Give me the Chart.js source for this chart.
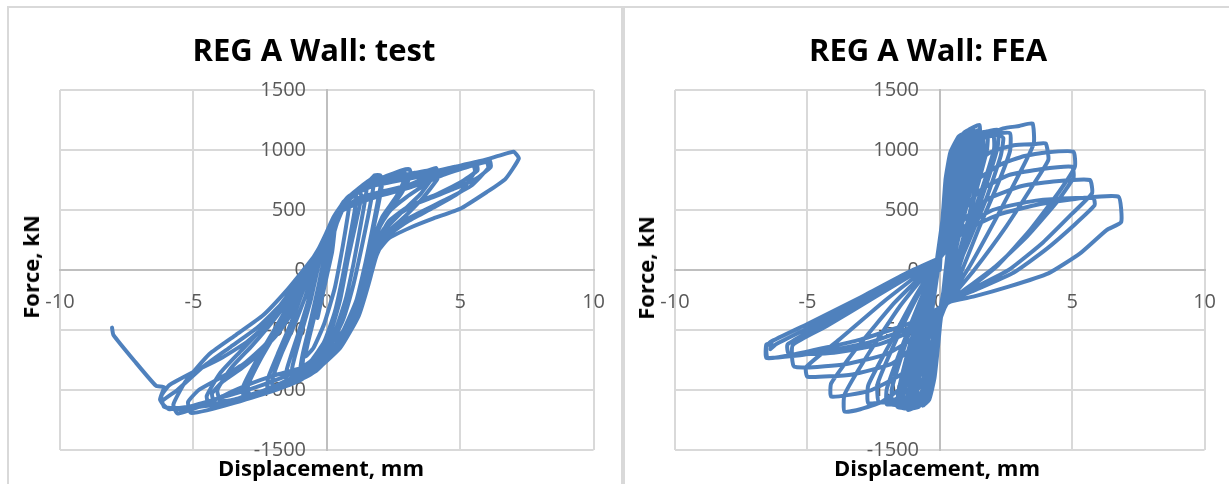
<!DOCTYPE html>
<html>
<head>
<meta charset="utf-8">
<script src="https://cdn.jsdelivr.net/npm/chart.js@4.4.1/dist/chart.umd.min.js"></script>
<style>
  body { margin: 0; background: #fff; }
  #wrap { position: relative; width: 1229px; height: 484px; overflow: hidden; background: #fff; }
  .line { position: absolute; background: #d9d9d9; }
  .box { position: absolute; top: 7px; height: 477px; }
  .title, .xtitle, .ytitle { position: absolute; font-family: "Open Sans", sans-serif; font-weight: bold; color: #000; white-space: nowrap; }
  .title { font-size: 31px; top: 28px; transform: translateX(-50%); }
  .xtitle { font-size: 22px; top: 452px; transform: translateX(-50%); }
  .ytitle { font-size: 22px; transform: translate(-50%, -50%) rotate(-90deg); }
</style>
</head>
<body>
<div id="wrap">
  <div class="line" style="left:7px;top:6px;width:1222px;height:2px"></div>
  <div class="line" style="left:7px;top:6px;width:2px;height:478px"></div>
  <div class="line" style="left:621px;top:6px;width:4px;height:478px"></div>

  <div class="box" style="left:8px;width:617px"><canvas id="testChart"></canvas></div>
  <div class="box" style="left:623px;width:613px"><canvas id="feaChart"></canvas></div>

  <div class="title" style="left:314px">REG A Wall: test</div>
  <div class="title" style="left:928px">REG A Wall: FEA</div>
  <div class="xtitle" style="left:321px">Displacement, mm</div>
  <div class="xtitle" style="left:937px">Displacement, mm</div>
  <div class="ytitle" style="left:30px;top:267px">Force, kN</div>
  <div class="ytitle" style="left:645px;top:268px">Force, kN</div>
</div>

<script>
// axis ticks (same on both panels)
const xTicks = [-10, -5, 0, 5, 10];
const yTicks = [-1500, -1000, -500, 0, 500, 1000, 1500];

// ---- test: [displacement mm, force kN], cycle by cycle ----
const testCycle1 = [[0,0],[0.15,200],[0.3,350],[0.2,150],[0,-50],[-0.2,-250],[-0.35,-400],[-0.2,-200],[0,0]];
const testCycle2 = [[0,0],[0.2,250],[0.5,470],[0.85,570],[0.8,470],[0.6,200],[0.3,-150],[-0.1,-450],[-0.5,-650],[-0.8,-720],[-0.7,-600],[-0.4,-330],[-0.15,-50],[0,150]];
const testCycle3 = [[0,150],[0.25,330],[0.55,500],[0.9,600],[1.1,620],[1.05,500],[0.85,250],[0.6,-50],[0.3,-350],[-0.1,-600],[-0.6,-760],[-0.9,-800],[-0.85,-680],[-0.55,-420],[-0.25,-150],[0,80]];
const testCycle4 = [[0,80],[0.3,360],[0.7,560],[1.2,650],[1.3,620],[1.1,400],[0.8,100],[0.5,-250],[0.1,-550],[-0.5,-780],[-1.0,-860],[-0.9,-700],[-0.6,-420],[-0.3,-120],[-0.1,100]];
const testCycle5 = [[-0.1,100],[0.25,370],[0.7,580],[1.2,680],[1.5,720],[1.45,600],[1.25,350],[1.0,50],[0.7,-250],[0.2,-580],[-0.4,-800],[-1.2,-900],[-1.3,-820],[-1.0,-560],[-0.6,-250],[-0.3,50]];
const testCycle6 = [[-0.3,50],[0.1,330],[0.6,560],[1.2,680],[1.7,760],[1.75,700],[1.55,450],[1.3,180],[1.0,-120],[0.6,-420],[0,-680],[-0.8,-860],[-1.5,-940],[-1.5,-830],[-1.1,-550],[-0.7,-260],[-0.35,40]];
const testCycle7 = [[-0.35,40],[0.05,300],[0.5,520],[1.0,640],[1.5,720],[1.8,790],[2.0,790],[2.05,740],[1.9,560],[1.7,330],[1.45,60],[1.1,-260],[0.5,-560],[-0.2,-780],[-1.0,-920],[-1.8,-990],[-2.0,-990],[-2.05,-920],[-1.7,-700],[-1.2,-450],[-0.8,-220],[-0.45,0],[-0.2,120]];
const testCycle8 = [[-0.2,120],[0.15,330],[0.6,550],[1.1,660],[1.6,740],[1.9,780],[2.1,770],[2.0,620],[1.8,400],[1.55,150],[1.25,-150],[0.8,-460],[0.1,-720],[-0.8,-890],[-1.6,-960],[-2.2,-1000],[-2.2,-900],[-1.8,-680],[-1.3,-420],[-0.9,-180],[-0.5,40]];
const testCycle9 = [[-0.5,40],[-0.1,230],[0.4,480],[1.0,640],[1.6,730],[2.2,780],[2.8,830],[3.1,840],[3.15,790],[2.8,640],[2.3,480],[1.9,320],[1.6,100],[1.3,-180],[0.8,-480],[0.0,-720],[-1.0,-890],[-2.0,-990],[-2.8,-1040],[-3.1,-1060],[-3.15,-980],[-2.7,-780],[-2.1,-560],[-1.5,-330],[-0.9,-100],[-0.5,60]];
const testCycle10 = [[-0.5,60],[-0.1,260],[0.45,500],[1.1,650],[1.7,730],[2.3,770],[2.8,800],[3.0,790],[2.8,660],[2.3,500],[1.9,330],[1.65,120],[1.4,-150],[0.9,-450],[0.2,-690],[-0.8,-870],[-1.8,-980],[-2.6,-1030],[-2.9,-1040],[-2.95,-960],[-2.5,-750],[-1.9,-520],[-1.3,-290],[-0.8,-60],[-0.4,80]];
const testCycle11 = [[-0.4,80],[0.0,280],[0.55,520],[1.2,660],[1.9,740],[2.5,790],[2.9,820],[2.95,770],[2.6,610],[2.1,450],[1.75,260],[1.5,30],[1.15,-280],[0.6,-560],[-0.3,-800],[-1.3,-940],[-2.3,-1020],[-3.0,-1050],[-3.0,-950],[-2.6,-740],[-2.0,-510],[-1.4,-280],[-0.8,-40],[-0.45,70]];
const testCycle12 = [[-0.45,70],[-0.05,270],[0.5,510],[1.1,650],[1.8,730],[2.6,780],[3.3,810],[3.8,830],[4.1,850],[4.15,790],[3.6,700],[3.0,610],[2.4,500],[2.0,370],[1.75,180],[1.5,-60],[1.15,-330],[0.5,-620],[-0.5,-830],[-1.6,-950],[-2.6,-1020],[-3.5,-1080],[-4.2,-1110],[-4.3,-1030],[-3.9,-930],[-3.2,-820],[-2.5,-690],[-1.8,-520],[-1.2,-320],[-0.7,-80],[-0.4,60]];
const testCycle13 = [[-0.4,60],[-0.1,230],[0.35,460],[0.9,610],[1.7,700],[2.6,750],[3.3,790],[3.9,820],[3.95,770],[3.5,630],[2.8,480],[2.2,340],[1.85,180],[1.55,-50],[1.2,-330],[0.6,-600],[-0.4,-840],[-1.6,-970],[-2.8,-1050],[-3.7,-1090],[-4.0,-1090],[-4.1,-1000],[-3.6,-820],[-2.8,-630],[-2.0,-420],[-1.2,-180],[-0.6,30]];
const testCycle14 = [[-0.6,30],[-0.15,240],[0.4,470],[1.2,560],[2.0,620],[2.8,680],[3.5,750],[4.1,800],[4.15,760],[3.6,600],[2.9,440],[2.3,320],[1.9,170],[1.6,-80],[1.2,-380],[0.5,-650],[-0.6,-870],[-1.8,-990],[-3.0,-1070],[-3.9,-1110],[-4.4,-1130],[-4.5,-1050],[-4.0,-860],[-3.2,-670],[-2.4,-480],[-1.6,-250],[-0.8,0]];
const testCycle15 = [[-0.8,0],[-0.3,180],[0.25,430],[0.8,600],[1.6,700],[2.5,750],[3.5,790],[4.5,840],[5.3,880],[5.6,890],[5.65,830],[5.0,730],[4.2,640],[3.4,560],[2.6,450],[2.1,330],[1.8,150],[1.5,-100],[1.0,-420],[0.3,-690],[-0.8,-880],[-2.2,-1020],[-3.5,-1110],[-4.5,-1170],[-5.1,-1190],[-5.2,-1100],[-4.8,-1000],[-4.0,-900],[-3.1,-780],[-2.3,-620],[-1.5,-380],[-0.9,-120],[-0.5,40]];
const testCycle16 = [[-0.5,40],[-0.1,250],[0.45,480],[1.1,580],[2.0,620],[3.0,680],[4.0,760],[4.8,830],[5.5,870],[5.55,820],[5.0,650],[4.0,520],[3.0,400],[2.2,270],[1.85,110],[1.5,-170],[1.0,-460],[0.1,-720],[-1.0,-820],[-2.0,-880],[-3.0,-960],[-4.0,-1060],[-4.8,-1140],[-5.6,-1195],[-5.75,-1120],[-5.3,-930],[-4.4,-700],[-3.4,-540],[-2.4,-380],[-1.5,-170],[-0.8,20]];
const testCycle17 = [[-0.8,20],[-0.3,170],[0.25,440],[0.8,610],[1.7,700],[2.8,750],[4.0,800],[5.0,850],[5.7,890],[6.1,915],[6.15,860],[5.6,760],[4.8,680],[3.9,600],[3.0,520],[2.3,400],[1.9,220],[1.65,-50],[1.2,-380],[0.4,-660],[-0.7,-870],[-2.1,-1010],[-3.5,-1100],[-4.8,-1140],[-5.7,-1150],[-6.1,-1140],[-6.2,-1050],[-5.9,-960],[-5.0,-850],[-4.0,-740],[-3.0,-600],[-2.0,-400],[-1.2,-160],[-0.5,30]];
const testCycle18 = [[-0.5,30],[0.0,230],[0.5,480],[1.2,600],[2.2,660],[3.3,720],[4.3,790],[5.3,860],[6.0,900],[6.05,850],[5.4,700],[4.4,580],[3.4,470],[2.5,360],[2.0,230],[1.7,20],[1.3,-300],[0.6,-560],[-0.4,-760],[-1.5,-880],[-2.7,-980],[-3.9,-1060],[-5.0,-1130],[-5.9,-1160],[-6.2,-1100],[-5.6,-1000],[-4.6,-800],[-3.6,-640],[-2.6,-480],[-1.6,-260],[-0.7,-10],[-0.5,30]];
const testCycle19 = [[-0.5,30],[-0.2,100],[0.1,260],[0.3,350],[0.65,530],[1.0,640],[1.5,720],[2.5,760],[3.6,800],[4.8,860],[5.8,910],[6.5,955],[7.0,985],[7.2,930],[6.7,760],[6.0,650],[5.0,510],[4.0,430],[3.1,350],[2.3,260],[1.9,150],[1.65,0],[1.3,-300],[0.65,-500],[0.0,-640],[-1.0,-860],[-2.0,-972],[-3.0,-1055],[-4.3,-1120],[-5.3,-1160],[-6.0,-1150],[-6.25,-1080],[-6.1,-975],[-6.4,-965],[-7.2,-760],[-8.0,-540],[-8.05,-480]];

// ---- FEA: [displacement mm, force kN], cycle by cycle ----
const feaCycle1 = [[0,0],[0.1,350],[0.25,700],[0.45,950],[0.75,1080],[1.0,1120],[0.98,1000],[0.75,700],[0.45,300],[0.2,-100],[0,-350],[-0.15,-650],[-0.35,-950],[-0.6,-1080],[-0.85,-1120],[-0.85,-1000],[-0.6,-650],[-0.35,-250],[-0.1,100]];
const feaCycle2 = [[-0.1,100],[0.1,420],[0.22,760],[0.4,980],[0.7,1110],[0.85,1130],[0.8,950],[0.55,560],[0.3,150],[0.1,-250],[-0.05,-600],[-0.2,-900],[-0.4,-1080],[-0.65,-1130],[-0.65,-980],[-0.45,-600],[-0.2,-200],[0,100]];
const feaCycle3 = [[0,100],[0.1,400],[0.3,780],[0.55,1000],[0.9,1140],[1.25,1180],[1.22,1050],[0.95,720],[0.6,320],[0.25,-100],[0.05,-350],[-0.15,-700],[-0.4,-980],[-0.7,-1100],[-0.95,-1140],[-0.95,-1020],[-0.7,-680],[-0.4,-280],[-0.05,110]];
const feaCycle4 = [[-0.05,110],[0.12,450],[0.3,820],[0.6,1050],[1.0,1150],[1.1,1120],[1.0,900],[0.7,500],[0.35,50],[0.1,-300],[-0.1,-650],[-0.3,-950],[-0.6,-1100],[-0.9,-1130],[-0.85,-950],[-0.55,-550],[-0.25,-150],[0,100]];
const feaCycle5 = [[0,100],[0.18,520],[0.4,860],[0.8,1060],[1.3,1150],[1.35,1050],[1.05,720],[0.6,280],[0.25,-150],[0,-420],[-0.2,-800],[-0.45,-1040],[-0.8,-1140],[-1.1,-1150],[-1.05,-1000],[-0.7,-600],[-0.35,-180],[0,100]];
const feaCycle6 = [[0,100],[0.15,450],[0.35,800],[0.65,1020],[1.05,1160],[1.5,1208],[1.5,1060],[1.2,760],[0.8,360],[0.35,-80],[0.05,-330],[-0.2,-720],[-0.5,-1000],[-0.85,-1130],[-1.2,-1167],[-1.2,-1040],[-0.9,-700],[-0.5,-280],[0,120]];
const feaCycle7 = [[0,120],[0.2,500],[0.5,880],[1.0,1080],[1.6,1130],[1.65,1010],[1.3,650],[0.9,250],[0.4,-120],[0.05,-350],[-0.2,-760],[-0.5,-1030],[-1.0,-1120],[-1.4,-1110],[-1.35,-950],[-0.95,-560],[-0.5,-200],[0,100]];
const feaCycle8 = [[0,100],[0.2,480],[0.45,820],[0.85,1040],[1.3,1130],[1.8,1150],[1.78,1000],[1.45,720],[1.0,360],[0.45,-80],[0.1,-320],[-0.25,-700],[-0.6,-990],[-1.05,-1110],[-1.5,-1130],[-1.5,-1000],[-1.1,-660],[-0.6,-270],[0,120]];
const feaCycle9 = [[0,120],[0.15,500],[0.35,850],[0.7,1060],[1.15,1170],[1.2,1080],[0.95,800],[0.6,380],[0.25,-50],[0,-380],[-0.25,-800],[-0.6,-1060],[-1.0,-1150],[-1.4,-1150],[-1.35,-1020],[-1.0,-700],[-0.55,-300],[0,100]];
const feaCycle10 = [[0,100],[0.2,520],[0.5,900],[0.95,1100],[1.5,1170],[1.55,1040],[1.2,700],[0.7,260],[0.3,-120],[0,-400],[-0.35,-850],[-0.8,-1080],[-1.3,-1150],[-1.6,-1140],[-1.55,-1000],[-1.15,-640],[-0.6,-250],[0,100]];
const feaCycle11 = [[0,100],[0.25,560],[0.6,930],[1.2,1100],[2.0,1150],[2.05,1010],[1.6,680],[1.0,300],[0.4,-100],[0.05,-350],[-0.3,-760],[-0.7,-1020],[-1.3,-1120],[-1.8,-1120],[-1.8,-980],[-1.3,-620],[-0.7,-240],[0,100]];
const feaCycle12 = [[0,100],[0.25,500],[0.55,840],[1.0,1040],[1.6,1140],[2.2,1167],[2.18,1020],[1.8,740],[1.25,380],[0.6,-60],[0.15,-310],[-0.3,-690],[-0.75,-970],[-1.35,-1100],[-2.0,-1120],[-2.0,-990],[-1.45,-650],[-0.75,-260],[0,120]];
const feaCycle13 = [[0,120],[0.3,520],[0.75,890],[1.4,1080],[2.2,1130],[2.4,1100],[2.3,950],[1.8,620],[1.1,240],[0.4,-120],[0.05,-330],[-0.3,-720],[-0.8,-980],[-1.5,-1090],[-2.3,-1100],[-2.35,-950],[-1.6,-560],[-0.8,-200],[0,100]];
const feaCycle14 = [[0,100],[0.3,500],[0.7,860],[1.3,1060],[1.95,1130],[2.65,1140],[2.65,990],[2.2,720],[1.5,360],[0.75,-50],[0.2,-290],[-0.35,-670],[-0.9,-940],[-1.7,-1080],[-2.7,-1110],[-2.7,-960],[-1.9,-620],[-1.0,-250],[0,120]];
const feaCycle15 = [[0,120],[0.35,520],[0.8,870],[1.5,1090],[2.4,1180],[3.0,1200],[3.5,1222],[3.55,1055],[3.0,800],[2.1,420],[1.1,20],[0.25,-280],[-0.4,-650],[-1.1,-920],[-2.2,-1100],[-3.0,-1160],[-3.6,-1180],[-3.6,-1040],[-2.7,-700],[-1.5,-300],[0,110]];
const feaCycle16 = [[0,110],[0.4,470],[1.0,800],[1.9,980],[2.8,1040],[3.6,1050],[4.0,1055],[4.1,917],[3.5,700],[2.5,360],[1.3,0],[0.3,-270],[-0.5,-600],[-1.4,-860],[-2.7,-1010],[-4.1,-1055],[-4.1,-944],[-3.1,-640],[-1.7,-270],[0,100]];
const feaCycle17 = [[0,100],[0.5,430],[1.3,730],[2.3,880],[3.2,950],[4.0,980],[5.05,986],[5.1,860],[4.5,650],[3.4,330],[2.2,40],[0.9,-190],[0.3,-270],[-0.6,-560],[-1.8,-780],[-3.3,-870],[-5.0,-890],[-5.05,-810],[-3.8,-580],[-2.1,-260],[0,100]];
const feaCycle18 = [[0,100],[0.6,400],[1.5,660],[2.6,790],[3.8,840],[5.0,860],[5.05,770],[4.4,560],[3.3,280],[2.1,30],[0.9,-170],[0.3,-265],[-0.7,-520],[-2.0,-700],[-3.7,-790],[-5.5,-806],[-5.55,-625],[-4.3,-470],[-2.4,-220],[0,100]];
const feaCycle19 = [[0,100],[0.7,370],[1.8,590],[3.1,700],[4.4,740],[5.67,750],[5.75,640],[5.0,470],[3.9,230],[2.6,0],[1.2,-160],[0.3,-265],[-0.8,-480],[-2.3,-620],[-4.0,-690],[-5.7,-700],[-5.75,-620],[-4.5,-460],[-2.6,-220],[0,100]];
const feaCycle20 = [[0,100],[0.8,340],[2.0,500],[3.4,570],[4.6,595],[5.8,600],[5.85,540],[5.1,380],[4.0,170],[2.8,-20],[1.3,-170],[0.3,-265],[-0.9,-460],[-2.6,-600],[-4.6,-690],[-6.5,-733],[-6.55,-640],[-6.4,-600],[-5.0,-450],[-3.0,-230],[-1.2,-20],[0,100]];
const feaCycle21 = [[0,100],[0.9,320],[2.2,460],[3.8,550],[5.4,600],[6.75,610],[6.85,400],[6.3,333],[5.3,139],[4.1,-28],[2.6,-139],[1.3,-220],[0.4,-264],[-0.8,-417],[-3.0,-580],[-5.6,-708],[-6.55,-733],[-6.55,-620],[-6.35,-610],[-6.4,-660],[-6.2,-620],[-3.5,-320],[-1.2,-28],[0,100]];

const testCycles = [testCycle1, testCycle2, testCycle3, testCycle4, testCycle5, testCycle6, testCycle7, testCycle8, testCycle9, testCycle10,
                    testCycle11, testCycle12, testCycle13, testCycle14, testCycle15, testCycle16, testCycle17, testCycle18, testCycle19];
const feaCycles = [feaCycle1, feaCycle2, feaCycle3, feaCycle4, feaCycle5, feaCycle6, feaCycle7, feaCycle8, feaCycle9, feaCycle10, feaCycle11,
                   feaCycle12, feaCycle13, feaCycle14, feaCycle15, feaCycle16, feaCycle17, feaCycle18, feaCycle19, feaCycle20, feaCycle21];

function toPoints(cycles) {
    const pts = [];
    cycles.forEach(c => c.forEach(p => pts.push({ x: p[0], y: p[1] })));
    return pts;
}

const tickFont = { family: '"Open Sans", sans-serif', size: 20 };

function makeChart(id, cycles) {
    const ctx = document.getElementById(id).getContext('2d');
    return new Chart(ctx, {
        type: 'scatter',
        data: {
            datasets: [{
                data: toPoints(cycles),
                showLine: true,
                borderColor: '#4f81bd',
                borderWidth: 4,
                pointRadius: 0,
                tension: 0.15,
                borderJoinStyle: 'round',
                borderCapStyle: 'round'
            }]
        },
        options: {
            responsive: false,
            animation: false,
            layout: { padding: { left: 52, right: 10, top: 83, bottom: 34 } },
            plugins: { legend: { display: false }, tooltip: { enabled: false } },
            scales: {
                x: {
                    type: 'linear',
                    position: { y: 0 },
                    min: xTicks[0], max: xTicks[xTicks.length - 1],
                    afterBuildTicks: s => { s.ticks = xTicks.map(v => ({ value: v })); },
                    grid: { color: '#d9d9d9', lineWidth: 2, drawTicks: false },
                    border: { color: '#bfbfbf', width: 2 },
                    ticks: { color: '#595959', font: tickFont, padding: 20, maxRotation: 0,
                             callback: v => String(v) }
                },
                y: {
                    type: 'linear',
                    position: { x: 0 },
                    min: yTicks[0], max: yTicks[yTicks.length - 1],
                    afterBuildTicks: s => { s.ticks = yTicks.map(v => ({ value: v })); },
                    grid: { color: '#d9d9d9', lineWidth: 2, drawTicks: false },
                    border: { color: '#bfbfbf', width: 2 },
                    // labels sit right on the axis at x=0, trailing spaces give Excel's gap
                    ticks: { color: '#595959', font: tickFont,
                             callback: v => String(v) + '    ' }
                }
            }
        }
    });
}

document.getElementById('testChart').width = 617;
document.getElementById('testChart').height = 477;
document.getElementById('feaChart').width = 613;
document.getElementById('feaChart').height = 477;

makeChart('testChart', testCycles);
makeChart('feaChart', feaCycles);
</script>
</body>
</html>
